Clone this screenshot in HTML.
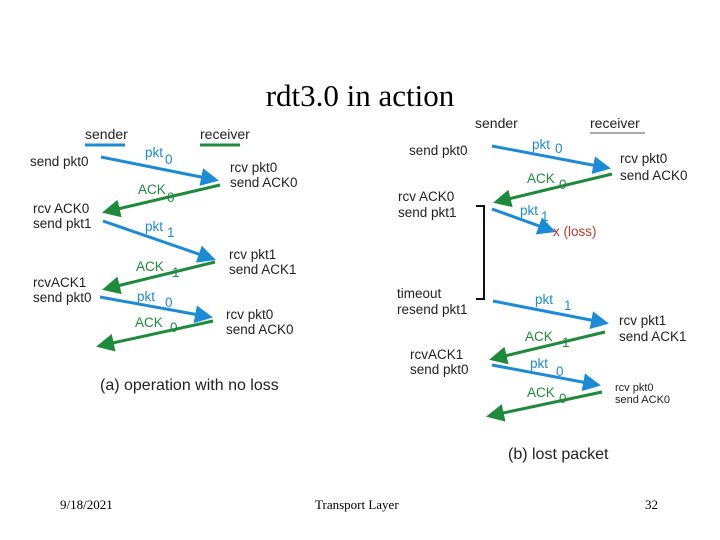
<!DOCTYPE html>
<html><head><style>body{margin:0;background:#fff}svg{display:block}</style></head><body>
<svg width="720" height="540" viewBox="0 0 720 540" xmlns="http://www.w3.org/2000/svg">
<defs>
<marker id="b" markerWidth="6" markerHeight="6" refX="5" refY="3" orient="auto" markerUnits="strokeWidth"><path d="M0,0L6,3L0,6z" fill="#1b8bd6"/></marker>
<marker id="g" markerWidth="6" markerHeight="6" refX="5" refY="3" orient="auto" markerUnits="strokeWidth"><path d="M0,0L6,3L0,6z" fill="#1e8a3c"/></marker>
</defs>
<text x="360" y="106" font-family="Liberation Serif, serif" font-size="31" text-anchor="middle">rdt3.0 in action</text>
<g font-family="Liberation Sans, sans-serif" font-size="13.5" fill="#222">
<!-- left -->
<text x="85" y="139" font-size="14">sender</text><text x="200" y="139" font-size="14">receiver</text>
<line x1="85" y1="145" x2="125" y2="145" stroke="#1b8bd6" stroke-width="3"/>
<line x1="200" y1="145" x2="240" y2="145" stroke="#1e8a3c" stroke-width="3"/>
<g stroke-width="3" fill="none">
<line x1="101" y1="157" x2="216" y2="180" stroke="#1b8bd6" marker-end="url(#b)"/>
<line x1="220" y1="185" x2="105" y2="212" stroke="#1e8a3c" marker-end="url(#g)"/>
<line x1="103" y1="221" x2="213" y2="259" stroke="#1b8bd6" marker-end="url(#b)"/>
<line x1="215" y1="262" x2="105" y2="289" stroke="#1e8a3c" marker-end="url(#g)"/>
<line x1="100" y1="297" x2="210" y2="317" stroke="#1b8bd6" marker-end="url(#b)"/>
<line x1="213" y1="321" x2="99" y2="346" stroke="#1e8a3c" marker-end="url(#g)"/>
</g>
<text x="30" y="166">send pkt0</text>
<text x="145" y="157" fill="#1b8bd6">pkt</text><text x="165" y="164" fill="#1b8bd6">0</text>
<text x="230" y="172">rcv pkt0</text><text x="230" y="187">send ACK0</text>
<text x="138" y="194" fill="#1e8a3c">ACK</text><text x="167" y="202" fill="#1e8a3c">0</text>
<text x="33" y="213">rcv ACK0</text><text x="33" y="228">send pkt1</text>
<text x="145" y="231" fill="#1b8bd6">pkt</text><text x="167" y="237" fill="#1b8bd6">1</text>
<text x="229" y="259">rcv pkt1</text><text x="229" y="274">send ACK1</text>
<text x="136" y="271" fill="#1e8a3c">ACK</text><text x="172" y="277" fill="#1e8a3c">1</text>
<text x="33" y="287">rcvACK1</text><text x="33" y="302">send pkt0</text>
<text x="137" y="301" fill="#1b8bd6">pkt</text><text x="165" y="307" fill="#1b8bd6">0</text>
<text x="226" y="319">rcv pkt0</text><text x="226" y="334">send ACK0</text>
<text x="135" y="327" fill="#1e8a3c">ACK</text><text x="170" y="332" fill="#1e8a3c">0</text>
<text x="100" y="390" font-size="16">(a) operation with no loss</text>
<!-- right -->
<text x="475" y="128" font-size="14">sender</text><text x="590" y="128" font-size="14">receiver</text>
<line x1="590" y1="133" x2="645" y2="133" stroke="#555" stroke-width="1"/>
<path d="M476,206H484V299H476" stroke="#111" stroke-width="2" fill="none"/>
<g stroke-width="3" fill="none">
<line x1="492" y1="146" x2="608" y2="168" stroke="#1b8bd6" marker-end="url(#b)"/>
<line x1="612" y1="174" x2="496" y2="202" stroke="#1e8a3c" marker-end="url(#g)"/>
<line x1="492" y1="209" x2="553" y2="231" stroke="#1b8bd6" marker-end="url(#b)"/>
<line x1="493" y1="301" x2="606" y2="323" stroke="#1b8bd6" marker-end="url(#b)"/>
<line x1="605" y1="332" x2="492" y2="359" stroke="#1e8a3c" marker-end="url(#g)"/>
<line x1="492" y1="365" x2="598" y2="385" stroke="#1b8bd6" marker-end="url(#b)"/>
<line x1="602" y1="392" x2="489" y2="416" stroke="#1e8a3c" marker-end="url(#g)"/>
</g>
<text x="409" y="155">send pkt0</text>
<text x="532" y="149" fill="#1b8bd6">pkt</text><text x="555" y="153" fill="#1b8bd6">0</text>
<text x="620" y="163">rcv pkt0</text><text x="620" y="180">send ACK0</text>
<text x="527" y="183" fill="#1e8a3c">ACK</text><text x="559" y="189" fill="#1e8a3c">0</text>
<text x="398" y="201">rcv ACK0</text><text x="398" y="217">send pkt1</text>
<text x="520" y="215" fill="#1b8bd6">pkt</text><text x="541" y="221" fill="#1b8bd6">1</text>
<text x="553" y="236" fill="#c0392b">x (loss)</text>
<text x="397" y="298">timeout</text><text x="397" y="314">resend pkt1</text>
<text x="535" y="304" fill="#1b8bd6">pkt</text><text x="564" y="310" fill="#1b8bd6">1</text>
<text x="619" y="325">rcv pkt1</text><text x="619" y="341">send ACK1</text>
<text x="525" y="341" fill="#1e8a3c">ACK</text><text x="562" y="347" fill="#1e8a3c">1</text>
<text x="410" y="359">rcvACK1</text><text x="410" y="374">send pkt0</text>
<text x="530" y="368" fill="#1b8bd6">pkt</text><text x="556" y="376" fill="#1b8bd6">0</text>
<text x="527" y="397" fill="#1e8a3c">ACK</text><text x="559" y="403" fill="#1e8a3c">0</text>
<text x="615" y="391" font-size="11">rcv pkt0</text><text x="615" y="403" font-size="11">send ACK0</text>
<text x="508" y="459" font-size="16">(b) lost packet</text>
</g>
<g font-family="Liberation Serif, serif" font-size="13" fill="#000">
<text x="60" y="509">9/18/2021</text>
<text x="315" y="509">Transport Layer</text>
<text x="645" y="509">32</text>
</g>
</svg>
</body></html>
